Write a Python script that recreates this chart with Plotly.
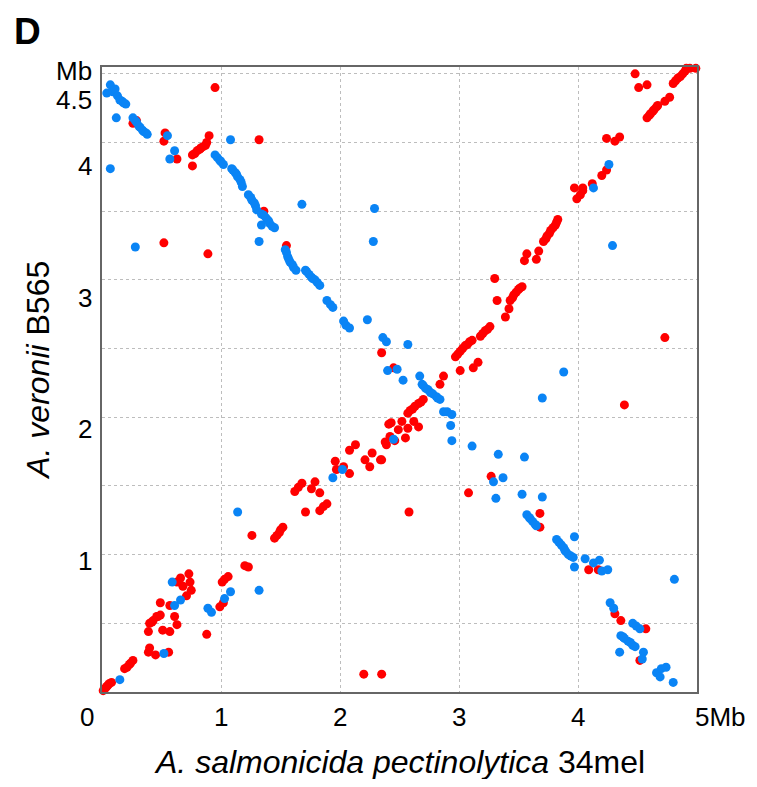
"""
Dot plot: A. salmonicida pectinolytica 34mel vs A. veronii B565 (painel D).
"""

import plotly.graph_objects as go

# ==========================================
# DADOS (posições em Mb)
# ==========================================
BLUE_PTS = [
    (0.07, 4.42), (0.04, 4.36), (0.09, 4.37), (0.11, 4.39), (0.13, 4.34), (0.15, 4.31), (0.17, 4.30),
    (0.18, 4.29), (0.20, 4.28),
    (0.12, 4.18), (0.26, 4.18), (0.28, 4.16), (0.29, 4.15), (0.31, 4.12), (0.32, 4.11), (0.34, 4.09),
    (0.35, 4.08), (0.37, 4.07), (0.38, 4.06),
    (0.55, 4.05), (0.61, 3.94), (0.57, 3.88), (0.07, 3.81),
    (0.95, 3.91), (0.97, 3.89), (0.99, 3.87), (1.00, 3.86), (1.02, 3.84), (1.08, 4.02),
    (1.09, 3.81), (1.10, 3.80), (1.12, 3.78), (1.13, 3.77), (1.14, 3.75), (1.16, 3.73), (1.17, 3.71),
    (1.18, 3.68),
    (1.23, 3.62), (1.25, 3.60), (1.26, 3.58), (1.28, 3.56), (1.29, 3.54), (1.30, 3.51),
    (1.34, 3.40), (1.34, 3.48), (1.36, 3.47), (1.38, 3.45), (1.40, 3.43), (1.41, 3.41), (1.43, 3.39),
    (1.45, 3.38),
    (1.32, 3.28), (1.68, 3.55), (2.29, 3.52), (2.28, 3.28), (0.28, 3.24),
    (1.54, 3.22), (1.55, 3.20), (1.56, 3.17), (1.57, 3.15), (1.58, 3.13), (1.60, 3.11), (1.61, 3.09),
    (1.63, 3.07),
    (1.71, 3.07), (1.72, 3.06), (1.74, 3.04), (1.76, 3.02), (1.77, 3.01), (1.79, 3.00), (1.81, 2.98),
    (1.83, 2.96),
    (1.89, 2.85), (1.92, 2.82), (1.94, 2.80), (2.03, 2.70), (2.05, 2.67), (2.08, 2.65),
    (2.23, 2.71), (2.36, 2.58), (2.39, 2.55), (2.57, 2.53), (2.40, 2.34), (2.48, 2.35),
    (2.53, 2.27), (2.67, 2.30), (2.69, 2.24), (2.70, 2.23), (2.72, 2.21), (2.74, 2.20), (2.76, 2.18),
    (2.78, 2.17), (2.81, 2.15), (2.82, 2.14), (2.84, 2.13),
    (2.87, 2.04), (2.90, 2.04), (2.94, 2.02), (2.93, 1.94), (2.94, 1.83),
    (3.88, 2.33), (3.70, 2.14), (2.45, 1.84), (3.11, 1.79), (3.33, 1.73), (3.55, 1.71),
    (3.29, 1.53), (3.37, 1.56), (3.31, 1.41), (3.53, 1.44), (3.70, 1.42),
    (3.57, 1.29), (3.59, 1.27), (3.60, 1.26), (3.62, 1.24), (3.64, 1.22), (3.65, 1.21),
    (3.97, 1.13), (3.82, 1.11), (3.84, 1.09), (3.86, 1.07), (3.88, 1.05), (3.89, 1.03), (3.90, 1.02),
    (3.92, 1.00), (3.94, 0.99), (3.96, 0.98), (3.97, 0.91),
    (4.06, 0.97), (4.13, 0.94), (4.18, 0.96), (4.20, 0.88), (4.25, 0.89), (4.81, 0.82),
    (4.27, 0.65), (4.30, 0.61), (4.46, 0.50), (4.49, 0.48), (4.52, 0.46),
    (4.36, 0.41), (4.38, 0.40), (4.39, 0.39), (4.42, 0.37), (4.44, 0.36), (4.46, 0.34), (4.48, 0.33),
    (4.35, 0.29), (4.55, 0.29), (4.54, 0.24),
    (4.66, 0.14), (4.70, 0.17), (4.74, 0.18), (4.69, 0.11), (4.80, 0.07),
    (4.26, 3.84), (4.13, 3.67), (4.29, 3.25),
    (1.14, 1.31), (1.03, 0.68), (1.08, 0.73), (0.89, 0.61), (0.92, 0.58), (1.32, 0.74),
    (0.59, 0.80), (0.66, 0.67), (0.61, 0.63), (0.52, 0.28), (0.15, 0.09), (1.94, 1.56), (2.02, 1.62),
]

RED_PTS = [
    # canto superior esquerdo
    (0.26, 4.14), (0.29, 4.16), (0.53, 4.07), (0.52, 4.01), (0.63, 3.88),
    (0.76, 3.91), (0.78, 3.92), (0.80, 3.94), (0.82, 3.95), (0.83, 3.96), (0.85, 3.97), (0.87, 3.98),
    (0.88, 4.00), (0.76, 3.83),
    (0.90, 4.05), (0.95, 4.40), (1.32, 4.02), (1.36, 3.50), (0.52, 3.27), (0.89, 3.19),
    (1.55, 3.25), (2.35, 2.47),
    # diagonal superior direita
    (4.99, 4.54), (4.94, 4.54), (4.91, 4.54), (4.90, 4.52), (4.88, 4.50), (4.86, 4.48), (4.84, 4.47),
    (4.82, 4.45), (4.80, 4.43),
    (4.48, 4.50), (4.51, 4.40), (4.58, 4.42), (4.73, 4.30), (4.77, 4.33),
    (4.58, 4.18), (4.60, 4.20), (4.61, 4.21), (4.63, 4.23), (4.64, 4.24), (4.66, 4.26), (4.67, 4.27),
    (4.24, 4.03), (4.31, 4.01), (4.35, 4.04), (4.20, 3.76), (4.24, 3.80), (4.12, 3.70),
    (3.97, 3.67), (4.04, 3.67), (3.99, 3.59), (4.02, 3.62), (4.04, 3.65),
    (3.71, 3.28), (3.73, 3.30), (3.74, 3.32), (3.76, 3.34), (3.77, 3.36), (3.79, 3.38), (3.81, 3.40),
    (3.82, 3.42), (3.83, 3.44),
    (3.67, 3.21), (3.65, 3.15), (3.57, 3.19), (3.55, 3.14), (3.30, 3.01),
    (3.43, 2.85), (3.45, 2.87), (3.46, 2.89), (3.48, 2.91), (3.50, 2.93), (3.51, 2.94), (3.53, 2.95),
    (3.32, 2.85), (3.42, 2.79), (3.39, 2.73),
    (3.18, 2.59), (3.20, 2.61), (3.22, 2.63), (3.24, 2.64), (3.26, 2.66),
    (2.97, 2.44), (2.99, 2.46), (3.01, 2.48), (3.03, 2.50), (3.05, 2.52), (3.07, 2.53), (3.09, 2.55),
    (3.11, 2.56),
    (3.01, 2.34), (3.12, 2.36), (3.16, 2.40), (2.87, 2.30), (4.73, 2.58), (2.45, 2.36), (2.84, 2.24),
    (4.39, 2.09), (2.57, 2.03), (2.59, 2.05), (2.61, 2.06), (2.63, 2.08), (2.66, 2.10), (2.68, 2.11),
    (2.70, 2.13),
    # cruzamento central
    (2.43, 1.96), (2.52, 1.97), (2.62, 1.97), (2.66, 1.93), (2.57, 1.92), (2.55, 1.85),
    (2.49, 1.91), (2.46, 1.83), (2.39, 1.80), (2.38, 1.82), (2.35, 1.69), (2.41, 1.95), (2.42, 1.86),
    (2.08, 1.76), (2.13, 1.80), (2.21, 1.69), (2.27, 1.74), (2.25, 1.64), (2.34, 1.69),
    (1.96, 1.68), (1.97, 1.62), (2.03, 1.64), (2.08, 1.59),
    (1.62, 1.46), (1.65, 1.49), (1.68, 1.52), (1.76, 1.48), (1.79, 1.53), (1.83, 1.45),
    (1.83, 1.32), (1.86, 1.35), (1.89, 1.37), (1.71, 1.31),
    (1.26, 1.14), (1.45, 1.12), (1.47, 1.14), (1.49, 1.16), (1.50, 1.18), (1.52, 1.20),
    (1.20, 0.92), (1.23, 0.91),
    (1.01, 0.80), (1.03, 0.82), (1.06, 0.84), (0.99, 0.62), (1.02, 0.65), (0.88, 0.42),
    # canto inferior esquerdo
    (0.73, 0.86), (0.66, 0.83), (0.63, 0.80), (0.68, 0.77), (0.74, 0.80), (0.75, 0.74), (0.71, 0.70),
    (0.57, 0.63), (0.61, 0.55), (0.49, 0.65), (0.40, 0.50), (0.42, 0.51), (0.43, 0.52), (0.46, 0.55),
    (0.47, 0.55), (0.49, 0.56),
    (0.39, 0.44), (0.51, 0.45), (0.57, 0.44), (0.63, 0.49),
    (0.40, 0.32), (0.39, 0.29), (0.45, 0.27), (0.56, 0.29),
    (0.19, 0.17), (0.21, 0.18), (0.23, 0.20), (0.24, 0.21), (0.26, 0.23),
    (0.01, 0.01), (0.02, 0.02), (0.03, 0.03), (0.04, 0.04), (0.05, 0.05), (0.06, 0.06), (0.08, 0.07),
    (2.20, 0.13), (2.35, 0.13),
    # diagonal inferior direita
    (4.09, 0.89), (4.17, 0.89), (4.31, 0.57), (4.36, 0.52), (4.57, 0.46), (4.52, 0.23),
    (3.27, 1.57), (3.08, 1.45), (2.58, 1.31), (3.68, 1.30), (3.68, 1.20),
]

X_TICKS = [0, 1, 2, 3, 4, 5]
X_TICK_TEXT = ["0", "1", "2", "3", "4", "5Mb"]
Y_TICKS = [1, 2, 3, 4, 4.5]
Y_TICK_TEXT = ["1", "2", "3", "4", "4.5"]

# ==========================================
# ESTILO
# ==========================================
FONTE = "Liberation Sans, Arial, sans-serif"
COR_AZUL = "#0a84f5"
COR_VERM = "#ff0000"
Y_MAX = 4.55
ESCALA_ROTULO_Y = 0.957  # rótulos do eixo y ficam levemente abaixo das linhas de grade no original

fig = go.Figure()
fig.add_trace(go.Scatter(
    x=[p[0] for p in RED_PTS], y=[p[1] for p in RED_PTS], mode="markers",
    marker=dict(color=COR_VERM, size=9, line_width=0), hoverinfo="skip", cliponaxis=False
))
fig.add_trace(go.Scatter(
    x=[p[0] for p in BLUE_PTS], y=[p[1] for p in BLUE_PTS], mode="markers",
    marker=dict(color=COR_AZUL, size=9, line_width=0), hoverinfo="skip", cliponaxis=False
))

eixo_comum = dict(
    showgrid=True, gridcolor="#bdbdbd", gridwidth=1, griddash="dot",
    showline=True, mirror=True, linecolor="#666666", linewidth=1.5,
    zeroline=False, showticklabels=False, ticks="",
)
fig.update_xaxes(range=[0, 5], tickvals=[1, 2, 3, 4], **eixo_comum)
fig.update_yaxes(range=[0, Y_MAX], dtick=0.5, tick0=0, **eixo_comum)

# rótulos dos eixos
anot = []
for val, txt in zip(X_TICKS, X_TICK_TEXT):
    a = dict(x=val, y=0, xref="x", yref="paper", text=txt, showarrow=False,
             yanchor="middle", yshift=-25, font=dict(size=26, color="black", family=FONTE))
    if txt == "0":
        a.update(xshift=-15)
    elif txt.endswith("Mb"):
        a.update(xanchor="left", xshift=-4)
    anot.append(a)
for val, txt in zip(Y_TICKS, Y_TICK_TEXT):
    anot.append(dict(x=0, y=val * ESCALA_ROTULO_Y, xref="paper", yref="y", text=txt,
                     showarrow=False, xanchor="right", yanchor="middle", xshift=-8,
                     font=dict(size=26, color="black", family=FONTE)))
anot.append(dict(x=0, y=1, xref="paper", yref="paper", text="Mb", showarrow=False,
                 xanchor="right", yanchor="middle", xshift=-8, yshift=-4,
                 font=dict(size=26, color="black", family=FONTE)))

anot.append(dict(x=0.5, y=0, xref="paper", yref="paper", showarrow=False,
                 text="<i>A. salmonicida pectinolytica</i> 34mel",
                 yanchor="middle", yshift=-70, font=dict(size=32, color="black", family=FONTE)))
anot.append(dict(x=0, y=0.514, xref="paper", yref="paper", showarrow=False,
                 text="<i>A. veronii</i> B565", textangle=-90,
                 xanchor="center", yanchor="middle", xshift=-64,
                 font=dict(size=32, color="black", family=FONTE)))
# letra do painel
anot.append(dict(x=0, y=1, xref="paper", yref="paper", showarrow=False,
                 text="<b>D</b>", xanchor="left", yanchor="top", xshift=-89, yshift=57,
                 borderpad=0, font=dict(size=37, color="black", family=FONTE)))

# a página tem 8 px de margem no body: figura menor para caber na janela
fig.update_layout(
    width=741, height=771,
    margin=dict(l=94, r=52, t=59, b=87),
    plot_bgcolor="white", paper_bgcolor="white",
    showlegend=False, annotations=anot,
    font_family=FONTE,
)

fig.write_html("out.html")
